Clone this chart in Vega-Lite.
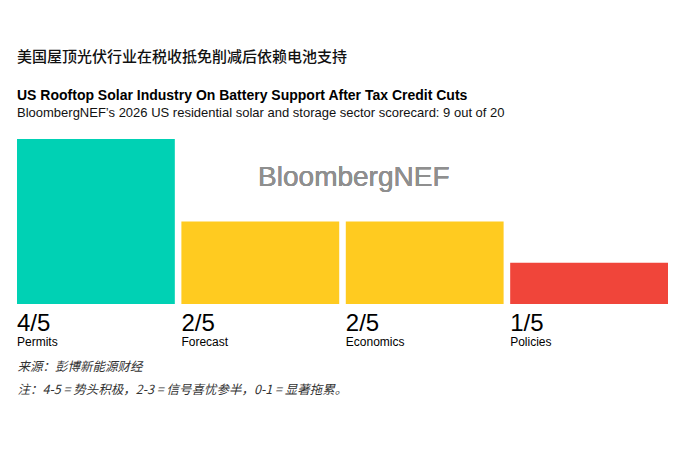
{
  "$schema": "https://vega.github.io/schema/vega-lite/v6.json",
  "padding": {"left": 17, "top": 50, "right": 12, "bottom": 5},
  "background": "#ffffff",
  "title": {
    "text": "美国屋顶光伏行业在税收抵免削减后依赖电池支持",
    "anchor": "start",
    "font": "Noto Sans CJK SC",
    "fontSize": 15,
    "fontWeight": 500,
    "color": "#111111",
    "offset": 24
  },
  "config": {"view": {"stroke": null}},
  "vconcat": [
    {
      "width": 651,
      "height": 165,
      "title": {
        "text": "US Rooftop Solar Industry On Battery Support After Tax Credit Cuts",
        "subtitle": "BloombergNEF’s 2026 US residential solar and storage sector scorecard: 9 out of 20",
        "anchor": "start",
        "font": "Liberation Sans",
        "fontSize": 14,
        "fontWeight": "bold",
        "color": "#000000",
        "subtitleFont": "Liberation Sans",
        "subtitleFontSize": 13,
        "subtitleColor": "#111111",
        "subtitlePadding": 4,
        "offset": 19
      },
      "data": {
        "values": [
          {"category": "Permits", "score": 4, "label": "4/5"},
          {"category": "Forecast", "score": 2, "label": "2/5"},
          {"category": "Economics", "score": 2, "label": "2/5"},
          {"category": "Policies", "score": 1, "label": "1/5"}
        ]
      },
      "encoding": {
        "x": {
          "field": "category",
          "type": "nominal",
          "sort": null,
          "scale": {"paddingInner": 0.04, "paddingOuter": 0},
          "axis": {
            "title": ["来源：彭博新能源财经", "注：4-5 = 势头积极，2-3 = 信号喜忧参半，0-1 = 显著拖累。"],
            "labels": false,
            "ticks": false,
            "domain": false,
            "titleAnchor": "start",
            "titleAlign": "left",
            "titleFont": "Noto Sans CJK SC",
            "titleFontSize": 12.5,
            "titleFontWeight": "normal",
            "titleFontStyle": "italic",
            "titleColor": "#333333",
            "titleLineHeight": 23,
            "titlePadding": 56
          }
        }
      },
      "layer": [
        {
          "mark": {"type": "bar"},
          "encoding": {
            "y": {"field": "score", "type": "quantitative", "scale": {"domain": [0, 4], "nice": false}, "axis": null},
            "color": {
              "field": "category",
              "type": "nominal",
              "scale": {
                "domain": ["Permits", "Forecast", "Economics", "Policies"],
                "range": ["#00d1b4", "#ffcb20", "#ffcb20", "#f0453a"]
              },
              "legend": null
            }
          }
        },
        {
          "mark": {"type": "text", "text": "BloombergNEF", "font": "Liberation Sans", "fontSize": 28, "color": "#8f8f8f", "align": "center", "baseline": "middle", "dx": 8},
          "encoding": {
            "x": {"datum": "Economics", "bandPosition": 0},
            "y": {"datum": 3.05}
          }
        },
        {
          "mark": {"type": "text", "align": "left", "baseline": "alphabetic", "dy": 27, "font": "Liberation Sans", "fontSize": 24, "color": "#000000"},
          "encoding": {
            "x": {"field": "category", "type": "nominal", "sort": null, "bandPosition": 0},
            "y": {"datum": 0},
            "text": {"field": "label"}
          }
        },
        {
          "mark": {"type": "text", "align": "left", "baseline": "alphabetic", "dy": 42, "font": "Liberation Sans", "fontSize": 12, "color": "#000000"},
          "encoding": {
            "x": {"field": "category", "type": "nominal", "sort": null, "bandPosition": 0},
            "y": {"datum": 0},
            "text": {"field": "category"}
          }
        }
      ]
    }
  ]
}
